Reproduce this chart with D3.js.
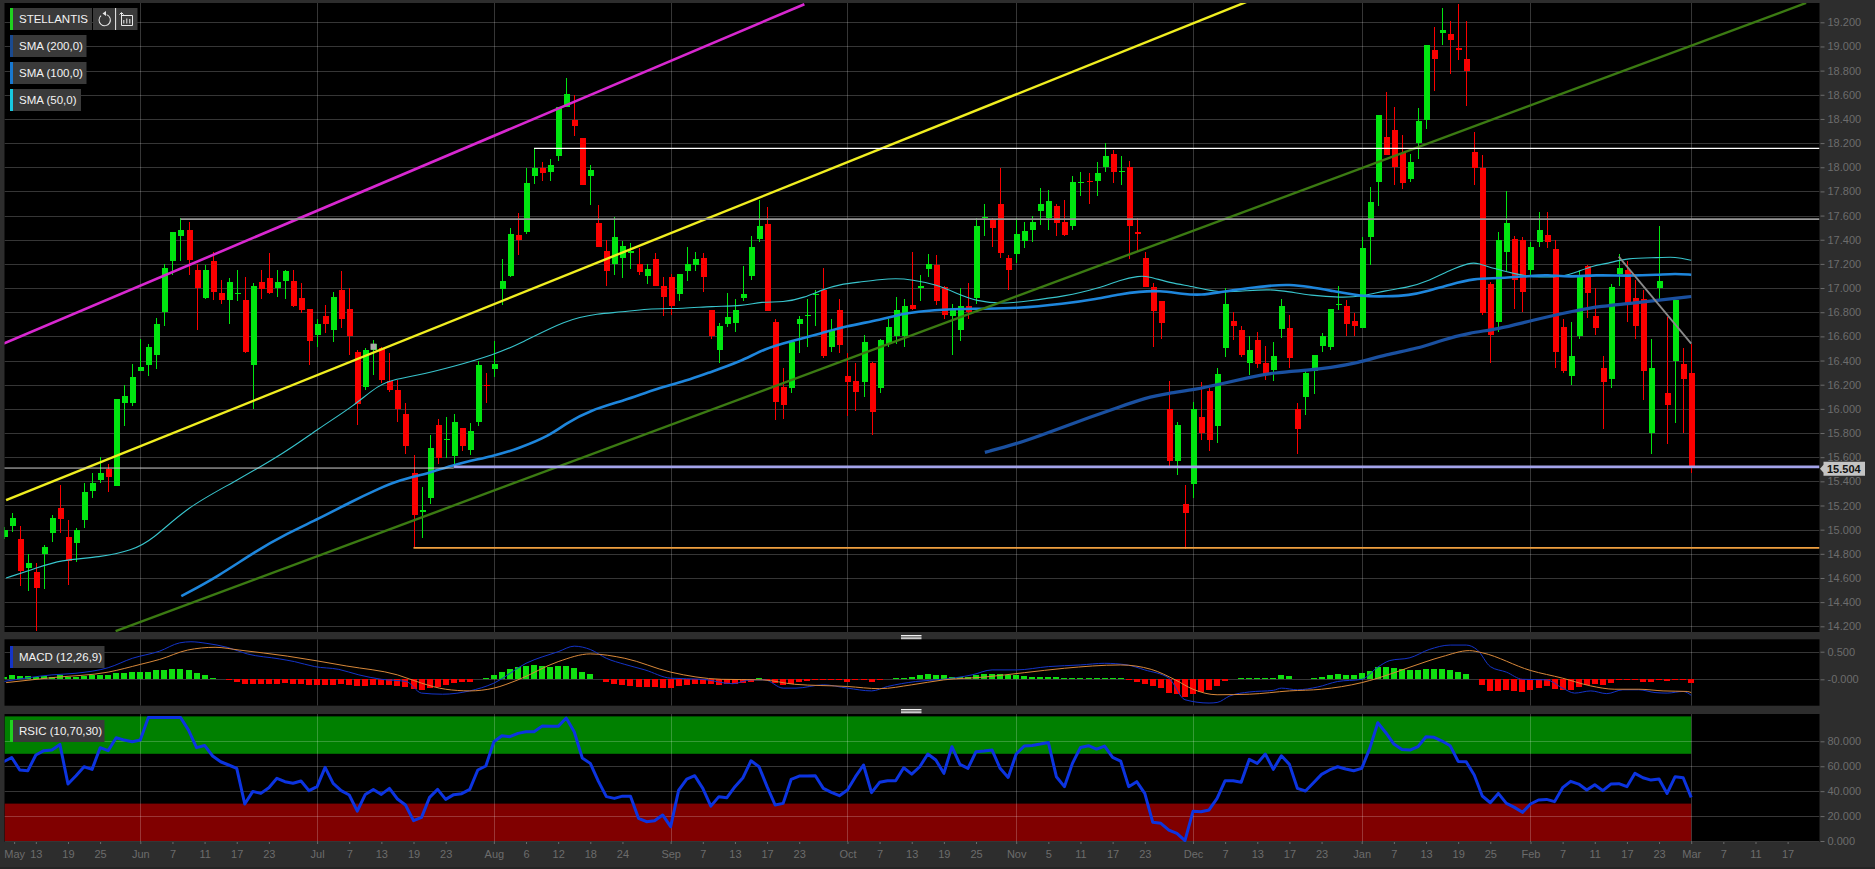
<!DOCTYPE html>
<html><head><meta charset="utf-8">
<script src="https://cdn.jsdelivr.net/npm/d3@7/dist/d3.min.js"></script>
<style>
html,body{margin:0;padding:0;background:#2d2d2d;overflow:hidden}
svg{display:block}
text{font-family:"Liberation Sans",Arial,sans-serif}
</style></head><body>
<svg id="c" width="1875" height="869"></svg>
<script>
const firstIndex = -17;
const opens = [14.94,15.03,14.92,14.68,14.65,14.80,14.97,15.18,14.94,14.89,15.08,15.32,15.41,15.50,15.36,16.05,16.05,16.31,16.36,16.45,16.80,17.22,17.43,17.48,17.15,16.92,17.22,16.96,16.90,16.95,16.90,16.36,17.05,17.08,17.00,17.06,17.06,16.92,16.83,16.61,16.77,16.65,16.98,16.83,16.47,16.18,16.49,16.50,16.23,16.16,15.96,15.47,15.15,15.26,15.87,15.74,15.61,15.84,15.66,15.89,16.20,16.33,16.99,17.10,17.44,17.46,17.93,17.99,17.96,18.09,18.50,18.39,18.24,17.93,17.54,17.31,17.20,17.25,17.29,17.20,17.10,17.24,17.02,17.09,16.95,17.14,17.19,17.25,16.82,16.49,16.70,16.71,16.92,17.10,17.41,17.53,16.72,16.18,16.17,16.70,16.77,16.94,16.98,16.51,16.82,16.27,16.23,16.22,16.38,16.17,16.54,16.60,16.60,16.86,17.00,17.16,17.19,17.01,16.77,16.65,16.85,16.92,17.58,17.56,17.70,17.25,17.28,17.39,17.48,17.64,17.58,17.68,17.55,17.51,17.87,17.89,17.89,18.00,18.11,17.96,18.00,17.46,17.25,17.01,16.89,16.00,15.57,15.21,15.38,15.93,16.15,15.86,16.50,16.73,16.65,16.38,16.57,16.38,16.32,16.66,16.67,16.00,16.10,16.31,16.52,16.51,16.86,16.85,16.73,16.67,17.42,17.88,18.25,18.31,18.12,17.90,18.20,18.39,18.97,19.11,19.10,18.99,18.90,18.13,17.99,17.03,16.72,17.30,17.41,17.40,17.15,17.38,17.44,17.32,16.68,16.27,16.60,17.18,16.77,16.34,16.25,17.12,17.15,16.92,16.91,15.80,17.00,16.13,16.40,16.37,16.30];
const highs = [15.02,15.14,15.03,14.80,14.72,14.87,15.12,15.37,15.08,15.01,15.39,15.47,15.60,15.54,16.08,16.20,16.37,16.58,16.54,16.75,17.20,17.46,17.58,17.55,17.20,17.19,17.30,17.07,17.08,17.15,17.09,17.04,17.15,17.29,17.15,17.15,17.15,17.04,16.83,16.74,16.86,16.97,17.14,17.00,16.49,16.50,16.57,16.51,16.46,16.24,16.05,15.62,15.35,15.78,15.92,15.93,15.96,15.84,15.88,16.40,16.30,16.56,17.24,17.50,17.62,17.99,18.16,18.04,18.07,18.50,18.74,18.60,18.24,18.02,17.69,17.40,17.59,17.39,17.37,17.33,17.20,17.29,17.09,17.12,17.12,17.34,17.30,17.29,16.82,16.71,16.96,16.91,17.18,17.43,17.73,17.67,16.74,16.34,16.57,16.77,16.91,16.98,17.17,16.74,16.91,16.46,16.38,16.61,16.39,16.58,16.74,16.93,16.91,17.30,17.11,17.28,17.27,17.02,16.87,17.00,17.04,17.58,17.70,17.58,17.99,17.27,17.58,17.55,17.60,17.83,17.81,17.70,17.73,17.93,17.96,17.95,18.04,18.20,18.14,18.09,18.05,17.58,17.30,17.04,16.89,16.23,15.89,15.37,16.06,16.22,16.17,16.34,17.00,16.80,16.69,16.60,16.64,16.52,16.55,16.91,16.78,16.05,16.32,16.45,16.63,16.83,17.02,16.90,16.79,17.42,17.84,18.43,18.62,18.50,18.27,18.11,18.49,19.01,19.16,19.32,19.21,19.35,19.21,18.29,18.10,17.05,17.46,17.80,17.43,17.42,17.38,17.63,17.63,17.40,16.74,16.72,17.14,17.19,17.00,16.44,17.03,17.28,17.22,17.07,16.98,16.58,17.51,16.76,16.90,16.50,16.54];
const lows = [14.92,14.98,14.53,14.49,14.16,14.51,14.90,14.97,14.54,14.73,15.01,15.26,15.39,15.31,15.36,15.86,16.02,16.31,16.27,16.33,16.69,17.11,17.22,17.11,16.65,16.91,16.90,16.87,16.70,16.89,16.46,16.00,16.91,16.95,16.93,16.91,16.84,16.79,16.36,16.51,16.63,16.55,16.67,16.45,15.87,16.16,16.28,16.21,16.14,15.89,15.63,14.85,14.93,15.21,15.54,15.59,15.52,15.65,15.62,15.86,16.05,16.26,16.86,17.09,17.27,17.45,17.86,17.89,17.89,18.05,18.50,18.26,17.85,17.69,17.34,17.02,17.11,17.08,17.16,17.11,17.03,17.02,16.77,16.78,16.89,17.06,17.14,16.97,16.58,16.38,16.68,16.64,16.89,17.07,17.38,16.81,15.91,15.92,16.13,16.46,16.51,16.69,16.42,16.47,16.46,15.94,15.98,16.10,15.78,16.13,16.51,16.54,16.51,16.82,16.89,17.09,16.86,16.74,16.45,16.56,16.74,16.87,17.43,17.34,17.25,16.98,17.21,17.33,17.38,17.52,17.48,17.43,17.43,17.48,17.76,17.70,17.76,17.96,17.87,17.85,17.24,17.31,17.01,16.51,16.58,15.53,15.45,14.84,15.26,15.74,15.65,15.72,16.43,16.57,16.43,16.28,16.34,16.24,16.23,16.59,16.34,15.63,15.95,16.12,16.47,16.49,16.82,16.60,16.60,16.67,17.19,17.68,18.10,17.85,17.82,17.88,18.07,18.32,18.63,19.01,18.77,18.89,18.51,17.85,16.78,16.38,16.64,17.14,16.83,16.80,17.11,17.34,17.33,16.34,16.30,16.20,16.58,16.75,16.61,15.83,16.17,17.02,16.72,16.58,16.07,15.63,16.91,15.71,15.88,15.80,15.47];
const closes = [15.00,15.10,14.66,14.72,14.52,14.86,15.10,15.09,14.74,15.00,15.31,15.39,15.47,15.44,16.08,16.11,16.26,16.35,16.51,16.70,17.17,17.46,17.48,17.23,17.00,17.15,16.97,16.90,17.05,16.96,16.47,17.02,16.99,16.96,17.05,17.14,16.85,16.82,16.56,16.70,16.70,16.93,16.74,16.60,16.04,16.49,16.54,16.24,16.16,16.00,15.69,15.12,15.16,15.68,15.59,15.75,15.89,15.69,15.82,16.36,16.19,16.37,17.06,17.45,17.40,17.87,17.99,17.95,18.02,18.50,18.61,18.34,17.85,17.98,17.34,17.14,17.42,17.35,17.31,17.13,17.16,17.02,16.93,16.85,17.12,17.20,17.24,17.09,16.60,16.69,16.76,16.82,16.95,17.34,17.51,16.81,16.06,16.03,16.55,16.74,16.78,16.95,16.44,16.65,16.53,16.22,16.14,16.55,15.97,16.57,16.68,16.82,16.85,16.83,17.02,17.20,16.89,16.78,16.82,16.85,16.80,17.51,17.59,17.50,17.29,17.15,17.45,17.47,17.55,17.70,17.72,17.54,17.44,17.88,17.88,17.88,17.95,18.09,17.96,17.97,17.51,17.45,17.01,16.81,16.71,15.57,15.87,15.14,16.00,15.80,15.74,16.29,16.87,16.69,16.45,16.49,16.37,16.29,16.44,16.85,16.42,15.83,16.30,16.45,16.60,16.83,16.87,16.70,16.69,17.33,17.71,18.43,18.10,18.00,17.87,18.04,18.38,19.01,18.90,19.14,19.05,18.97,18.80,17.99,16.79,16.61,17.40,17.54,17.07,16.97,17.34,17.48,17.38,16.47,16.31,16.44,17.10,16.96,16.67,16.22,17.01,17.17,16.86,16.69,16.31,16.34,17.06,16.03,16.90,16.25,15.52];
const markerCandles = [29];

const sma50 = [[-16.7,14.60],[-13,14.68],[-10,14.75],[-5,14.77],[-1,14.83],[1.4,14.91],[5.9,15.19],[11.3,15.38],[18.3,15.65],[22,15.83],[26.7,16.03],[29.6,16.20],[32,16.25],[34,16.27],[39,16.35],[44,16.45],[47,16.53],[53,16.74],[57,16.79],[60,16.80],[62.8,16.83],[67.8,16.83],[71,16.85],[75,16.85],[77.3,16.89],[80,16.88],[82.6,16.92],[85,16.99],[87,17.03],[89.6,17.05],[92,17.07],[94,17.08],[96,17.07],[99,17.03],[101.5,16.96],[104,16.89],[107.5,16.87],[110,16.89],[115,16.93],[119.4,17.00],[122,17.07],[124.3,17.10],[125.3,17.10],[128.3,17.04],[131.3,17.01],[134,16.96],[138,16.98],[140.5,16.99],[143,16.97],[145.5,16.94],[149.5,16.92],[152,16.93],[155,16.98],[158,17.01],[160,17.05],[163,17.15],[165.5,17.21],[166.3,17.21],[168.5,17.16],[171,17.12],[173,17.09],[177,17.09],[179,17.14],[181,17.19],[182.5,17.20],[185,17.25],[189,17.25],[191,17.26],[193,17.23]];
const sma100 = [[5.1,14.45],[9.6,14.61],[14.3,14.82],[18.3,14.97],[22.2,15.09],[26.2,15.23],[29.7,15.34],[32.2,15.41],[36.1,15.47],[39,15.54],[44,15.61],[47,15.67],[51,15.78],[53,15.88],[56,15.99],[60.3,16.07],[64.3,16.17],[68.3,16.24],[70.3,16.29],[74.7,16.39],[77.7,16.50],[81,16.56],[85,16.63],[87.5,16.68],[92.3,16.74],[95,16.79],[98.5,16.82],[104,16.83],[109,16.83],[115,16.87],[119,16.91],[122,16.95],[124.3,16.97],[126.8,16.98],[129.8,16.95],[132,16.94],[134.6,16.97],[138,17.00],[140.5,17.02],[143,17.03],[145.5,17.01],[148,16.98],[152,16.93],[155,16.93],[158,16.94],[160,16.97],[163,17.03],[166,17.08],[169,17.08],[173,17.10],[175,17.11],[178,17.09],[181,17.11],[185.2,17.10],[189,17.11],[191,17.12],[193,17.11]];
const sma200 = [[105.1,15.64],[109,15.71],[112,15.78],[116.5,15.89],[122,16.02],[125,16.09],[128,16.13],[131.3,16.16],[134.7,16.21],[138,16.26],[141,16.30],[145.5,16.32],[148,16.34],[151.5,16.38],[155,16.45],[159,16.50],[162,16.57],[165.4,16.63],[169,16.66],[173,16.73],[179,16.82],[181.8,16.85],[185,16.87],[189,16.90],[193,16.93]];

const trendMagenta = [[-17,16.54],[82.64,19.35]];
const trendYellow = [[-16.7,15.245],[137.7,19.37]];
const trendGreen = [[-3.07,14.16],[207.3,19.36]];
const trendGrey = [[183.98,17.26],[193,16.54]];
const levelWhite = {from:49,price:18.157};
const levelGrey = {from:5,price:17.57};
const levelLavender = {from:39,price:15.52};
const levelOrange = {from:34,price:14.85};
const levelThin = {from:-18,to:39,price:15.51};
const lastPrice = 15.504;

const macdHist = [.04,.08,.06,.06,.05,.06,.05,.07,.05,.05,.06,.07,.08,.08,.11,.12,.13,.14,.14,.16,.16,.18,.19,.17,.12,.08,.03,.01,-.01,-.04,-.08,-.08,-.08,-.08,-.08,-.07,-.08,-.09,-.10,-.11,-.11,-.10,-.09,-.10,-.13,-.12,-.11,-.11,-.11,-.12,-.14,-.18,-.19,-.16,-.14,-.10,-.06,-.05,-.04,.01,.03,.07,.13,.18,.22,.25,.26,.25,.23,.25,.25,.20,.13,.09,.01,-.05,-.09,-.11,-.12,-.14,-.14,-.14,-.15,-.15,-.13,-.10,-.08,-.08,-.09,-.10,-.09,-.08,-.06,-.04,.02,-.01,-.06,-.10,-.08,-.05,-.03,-.01,-.01,-.01,-.01,-.04,-.02,-.02,-.05,-.02,.01,.03,.03,.05,.08,.10,.08,.07,.04,.04,.04,.07,.09,.10,.09,.07,.07,.06,.05,.05,.05,.05,.02,.02,.02,.02,.02,.02,.02,.02,-.01,-.04,-.08,-.13,-.16,-.24,-.27,-.32,-.26,-.23,-.19,-.13,-.03,.01,.02,.02,.02,.02,.02,.07,.06,.01,.01,.02,.05,.08,.09,.08,.08,.11,.15,.22,.23,.21,.18,.16,.16,.19,.19,.19,.17,.14,.10,.01,-.11,-.22,-.22,-.20,-.22,-.23,-.19,-.15,-.13,-.17,-.19,-.19,-.14,-.10,-.09,-.10,-.06,-.01,-.01,-.01,-.04,-.04,-.01,-.03,-.01,-.01,-.07];
const macdLine = [[-17,-.04],[-11,.08],[-8,.11],[-4,.21],[-1,.38],[2.4,.51],[4.9,.66],[6.3,.68],[8.3,.65],[10.8,.58],[13.3,.46],[17.3,.37],[19.2,.32],[21.7,.23],[24.7,.18],[27.2,.08],[30,0],[33.1,-.04],[35,-.25],[37.6,-.27],[41,-.21],[44,-.07],[48,.29],[52,.50],[54,.60],[56,.54],[58,.38],[60.3,.27],[62.8,.17],[66,.02],[70,0],[73.7,-.08],[76,-.01],[77.7,-.01],[80,-.16],[81.6,-.16],[85,-.10],[88,-.16],[91,-.21],[93,-.13],[96.5,-.04],[99.9,0],[103.5,.08],[106,.17],[109,.17],[113,.23],[117,.26],[120,.29],[122.8,.26],[125,.17],[128,.02],[130,-.37],[133,-.43],[134,-.42],[135.6,-.30],[138,-.23],[141,-.20],[142,-.16],[144,-.19],[146.5,-.14],[149,-.04],[152,0],[154,.22],[155.5,.34],[158,.39],[160.4,.54],[163,.62],[165,.62],[166.4,.53],[168,.23],[170,.13],[172,0],[175,-.01],[177,-.16],[178.5,-.25],[180.5,-.21],[182.5,-.26],[184.5,-.19],[186.5,-.19],[188.5,-.24],[190,-.25],[192,-.22],[193,-.29]];
const macdSignal = [[-16.7,-.06],[-11,.03],[-4,.13],[0,.27],[2.4,.36],[5.9,.53],[9.3,.58],[12.3,.53],[18.3,.42],[25.7,.24],[32,.08],[35,-.07],[38,-.18],[41,-.21],[44,-.16],[47,-.01],[52,.32],[56,.46],[60.3,.38],[66,.13],[72.3,0],[77.4,-.01],[81.4,-.09],[88,-.13],[92,-.17],[96,-.10],[100,-.01],[105,.04],[110,.12],[115,.20],[122,.26],[125.8,.18],[128.8,-.01],[131,-.18],[134,-.28],[138,-.27],[143,-.21],[147,-.18],[152,-.06],[154,.02],[158,.22],[162,.41],[165.4,.52],[167,.48],[173,.16],[177,.02],[180.5,-.12],[183.5,-.18],[186.5,-.18],[189.5,-.21],[192.5,-.22],[193,-.24]];
const rsi = [63.6,67,57,56.4,69,72.5,73,77.5,45.7,52.4,59.6,57.5,74.9,72.5,82.9,81,79.7,81,99.2,99.2,99.2,99.2,99.2,89,74.9,76.7,68.2,63.6,61,58.3,29.7,39.8,38.2,42.8,50.3,47.6,46.3,48.1,40.4,43.6,59.1,46.3,40.4,36.9,24,37.4,41.4,37.4,42.2,33.7,28.9,16.3,19,35,41.4,33.4,37.2,38,41.4,57,60.2,79.7,84.5,83.7,86.4,87.7,87.7,92.2,92,92,98.7,87.7,66.6,62.3,48.1,35.6,34.2,36,36,18.2,15.5,16.3,20.9,11.5,40.9,49.7,52.4,42.2,28,35.6,34.8,43.6,50.8,64.4,59.6,43.6,28.9,30.2,49.5,52.1,52.1,52.4,42.2,39,36.4,40.9,51.6,61,38.8,47.1,48.4,48.4,58.8,53.7,59.6,69.8,65,54.3,75.7,61.5,58.3,71.7,72.2,73,58.3,51,69.8,76.2,76.7,77.8,79.1,51.6,43.6,62.3,75.1,76.5,73.8,76.2,67.1,64.2,43.6,47.6,38.2,15,14.2,8.8,6.1,0.3,23.8,23.5,24.9,34.2,48.4,48.4,47.1,65.5,62.3,69.8,57.5,68.4,61.5,42.2,40.1,46.8,53.5,57,59.6,57.8,56.4,58.3,74.3,94.9,86.9,77.8,73.5,73,75.7,83.7,83.2,80.2,76.5,63.9,63.6,52.9,36.1,30.7,38.2,30.2,27,23,29.7,32.9,33.4,31.6,42.8,47.9,45.7,40.9,45.2,40.4,45.7,46,43.6,54.3,50.8,48.9,49.7,38.2,51.6,50.8,35];
const rsiBands = [{from:70,to:100,fill:"#008000"},{from:0,to:30,fill:"#800000"}];

const priceTicks = d3.range(14.2,19.21,0.2).map(v=>+v.toFixed(1));
const macdTicks = [0,0.5];
const macdTickLabels = ["-0.000","0.500"];
const rsiTicks = [0,20,40,60,80];
const monthTicks = [0,22,44,66,88,109,131,152,173,193];
const xTickIndex = [-15.7,-13,-9,-5,0,4,8,12,16,22,26,30,34,38,44,48,52,56,60,66,70,74,78,82,88,92,96,100,104,109,113,117,121,125,131,135,139,143,147,152,156,160,164,168,173,177,181,185,189,193,197,201,205];
const xTickLabels = ["May","13","19","25","Jun","7","11","17","23","Jul","7","13","19","23","Aug","6","12","18","24","Sep","7","13","17","23","Oct","7","13","19","25","Nov","5","11","17","23","Dec","7","13","17","23","Jan","7","13","19","25","Feb","7","11","17","23","Mar","7","11","17"];

const legendSeries = [
 {name:"STELLANTIS",bar:"#1fd21f",w:82},
 {name:"SMA (200,0)",bar:"#1a4a90",w:76.5},
 {name:"SMA (100,0)",bar:"#1878d0",w:76.5},
 {name:"SMA (50,0)",bar:"#18c8e0",w:71}];

const L=4.5, R=1819.5;
const x = d3.scaleLinear().domain([0,193]).range([140.3,1691.2]);
const y = d3.scaleLinear().domain([14.2,19.2]).range([626.3,22.3]);
const yM = d3.scaleLinear().domain([0,0.5]).range([679.3,651.7]);
const yR = d3.scaleLinear().domain([0,100]).range([841,716.4]);
const panels = {main:[3,632],macd:[639.3,705.7],rsi:[714,842]};

const svg = d3.select("#c");
svg.append("rect").attr("width",1875).attr("height",869).attr("fill","#2d2d2d");
const defs = svg.append("defs");
Object.entries(panels).forEach(([k,[a,b]])=>{
  svg.append("rect").attr("x",L).attr("y",a).attr("width",R-L).attr("height",b-a).attr("fill","#000");
  defs.append("clipPath").attr("id","clip-"+k).append("rect").attr("x",L).attr("y",a).attr("width",R-L).attr("height",b-a);
});
const gMain = svg.append("g").attr("clip-path","url(#clip-main)");
const gMacd = svg.append("g").attr("clip-path","url(#clip-macd)");
const gRsi = svg.append("g").attr("clip-path","url(#clip-rsi)");
const gridColor = "rgba(255,255,255,0.21)";

gRsi.selectAll("rect.band").data(rsiBands).join("rect").attr("class","band")
  .attr("x",L).attr("width",x(193)-L)
  .attr("y",d=>yR(d.to)).attr("height",d=>yR(d.from)-yR(d.to)).attr("fill",d=>d.fill);

function grid(g,scale,ticks,[a,b]){
  g.selectAll("line.h").data(ticks).join("line").attr("class","h")
    .attr("x1",L).attr("x2",R).attr("y1",d=>Math.round(scale(d))+.5).attr("y2",d=>Math.round(scale(d))+.5)
    .attr("stroke",gridColor);
  g.selectAll("line.v").data(monthTicks).join("line").attr("class","v")
    .attr("x1",d=>Math.round(x(d))+.5).attr("x2",d=>Math.round(x(d))+.5).attr("y1",a).attr("y2",b)
    .attr("stroke",gridColor);
}
grid(gMain,y,priceTicks,panels.main);
grid(gMacd,yM,macdTicks,panels.macd);
grid(gRsi,yR,rsiTicks,panels.rsi);

const candles = opens.map((o,k)=>({i:k+firstIndex,o,h:highs[k],l:lows[k],c:closes[k]}));
const colUp="#00e610", colDn="#fb0000";
const bodyW=6;
gMain.selectAll("line.wick").data(candles).join("line").attr("class","wick")
  .attr("x1",d=>Math.round(x(d.i))+.5).attr("x2",d=>Math.round(x(d.i))+.5)
  .attr("y1",d=>y(d.h)).attr("y2",d=>y(d.l))
  .attr("stroke",d=>d.c>=d.o?colUp:colDn).attr("stroke-width",1).attr("shape-rendering","crispEdges");
gMain.selectAll("rect.body").data(candles).join("rect").attr("class","body")
  .attr("x",d=>Math.round(x(d.i))+.5-bodyW/2).attr("width",bodyW)
  .attr("y",d=>y(Math.max(d.o,d.c))).attr("height",d=>Math.max(1,Math.abs(y(d.o)-y(d.c))))
  .attr("fill",d=>d.c>=d.o?colUp:colDn).attr("shape-rendering","crispEdges");
gMain.selectAll("rect.mark").data(markerCandles.map(i=>candles[i-firstIndex])).join("rect").attr("class","mark")
  .attr("x",d=>Math.round(x(d.i))+.5-bodyW/2).attr("width",bodyW)
  .attr("y",d=>y(Math.max(d.o,d.c))).attr("height",d=>Math.abs(y(d.o)-y(d.c)))
  .attr("fill","#aaa");

const lineP = d3.line().x(d=>x(d[0])).y(d=>y(d[1])).curve(d3.curveBasis);
const drawLine=(g,gen,data,col,w)=>g.append("path").datum(data).attr("d",gen).attr("fill","none").attr("stroke",col).attr("stroke-width",w).attr("stroke-linejoin","round");
drawLine(gMain,lineP,sma50,"#38c4cc",1.1);
drawLine(gMain,lineP,sma100,"#1e86dc",2.6);
drawLine(gMain,lineP,sma200,"#1a50a0",3.2);

const lineT = d3.line().x(d=>x(d[0])).y(d=>y(d[1]));
drawLine(gMain,lineT,trendGreen,"#3b7a12",2.4);
drawLine(gMain,lineT,trendYellow,"#f0ee20",2.4);
drawLine(gMain,lineT,trendMagenta,"#d828d0",2.6);
drawLine(gMain,lineT,trendGrey,"#8a8a8a",1.8);

const level=(d,col,w)=>gMain.append("line").datum(d).attr("x1",x(d.from)).attr("x2",d.to!==undefined?x(d.to):R)
  .attr("y1",y(d.price)).attr("y2",y(d.price)).attr("stroke",col).attr("stroke-width",w);
level(levelThin,"#cfcfcf",1);
level(levelWhite,"#ffffff",1.2);
level(levelGrey,"#9a9a9a",1.8);
level(levelOrange,"#f0a040",1.8);
level(levelLavender,"#a3a3ea",2.6);

gMacd.selectAll("rect.hist").data(macdHist.map((v,k)=>({i:k+firstIndex,v}))).join("rect").attr("class","hist")
  .attr("x",d=>x(d.i)-3).attr("width",6)
  .attr("y",d=>yM(Math.max(0,d.v))).attr("height",d=>Math.abs(yM(d.v)-yM(0)))
  .attr("fill",d=>d.v>=0?"#10e010":"#fb0000").attr("shape-rendering","crispEdges");
const lineM = d3.line().x(d=>x(d[0])).y(d=>yM(d[1])).curve(d3.curveMonotoneX);
drawLine(gMacd,lineM,macdLine,"#1434c8",1);
drawLine(gMacd,lineM,macdSignal,"#d8883a",1);

const lineR = d3.line().x((d,k)=>x(k+firstIndex)).y(d=>yR(d));
drawLine(gRsi,lineR,rsi,"#0c34e0",3);

const labelCol="#6c6c6c";
function styleAxis(g){
  g.select(".domain").remove();
  g.selectAll("line").attr("stroke","#6c6c6c");
  g.selectAll("text").attr("fill",labelCol).attr("font-size",11).attr("font-family",'"Liberation Sans",Arial,sans-serif');
}
svg.append("g").attr("transform",`translate(${R+1},0)`)
  .call(d3.axisRight(y).tickValues(priceTicks).tickSize(4).tickPadding(3).tickFormat(d3.format(".3f"))).call(styleAxis);
svg.append("g").attr("transform",`translate(${R+1},0)`)
  .call(d3.axisRight(yM).tickValues(macdTicks).tickSize(4).tickPadding(3).tickFormat((d,k)=>macdTickLabels[k])).call(styleAxis);
svg.append("g").attr("transform",`translate(${R+1},0)`)
  .call(d3.axisRight(yR).tickValues(rsiTicks).tickSize(4).tickPadding(3).tickFormat(d3.format(".3f"))).call(styleAxis);
svg.append("g").attr("transform","translate(0,842)")
  .call(d3.axisBottom(x).tickValues(xTickIndex).tickSize(2).tickPadding(6).tickFormat((d,k)=>xTickLabels[k])).call(styleAxis);
svg.append("line").attr("x1",0).attr("x2",1875).attr("y1",868).attr("y2",868).attr("stroke","#1e1e1e");

const tag = svg.append("g").attr("transform",`translate(0,${y(lastPrice)})`);
tag.append("path").attr("d","M1820,0 L1823.5,-4 L1823.5,-7 L1865,-7 L1865,7 L1823.5,7 L1823.5,4 Z").attr("fill","#c4c4c4");
tag.append("text").attr("x",1827).attr("y",4).attr("font-size",11).attr("font-weight","bold").attr("fill","#111").text(d3.format(".3f")(lastPrice));

[[635,639],[709,713]].forEach(([a,b])=>{
  d3.range(3).forEach(k=>{
    svg.append("rect").attr("x",901).attr("width",20.5).attr("y",a+k*1.6).attr("height",1).attr("fill","#f0f0f0");
  });
});

function legend(yTop,name,bar,w){
  const g=svg.append("g");
  g.append("rect").attr("x",10).attr("y",yTop).attr("width",w).attr("height",22).attr("fill","#3a3a3a");
  g.append("rect").attr("x",10).attr("y",yTop).attr("width",3).attr("height",22).attr("fill",bar);
  g.append("text").attr("x",19).attr("y",yTop+15).attr("font-size",11.5).attr("fill","#f2f2f2").text(name);
}
legendSeries.forEach((d,k)=>legend(8+k*27,d.name,d.bar,d.w));
legend(646,"MACD (12,26,9)","#1434c8",94.5);
legend(720,"RSIC (10,70,30)","#1fd21f",94.5);

svg.append("rect").attr("x",93).attr("y",8).attr("width",44.5).attr("height",22).attr("fill","#3a3a3a");
svg.append("line").attr("x1",115.6).attr("x2",115.6).attr("y1",8).attr("y2",30).attr("stroke","#eee");
svg.append("path").attr("d",d3.arc()({innerRadius:5.2,outerRadius:6.2,startAngle:0.35,endAngle:5.6})).attr("transform","translate(104.7,20)").attr("fill","#e8e8e8");
svg.append("path").attr("d","M106,11 L102.5,13.6 L106,16 Z").attr("fill","#e8e8e8");
svg.append("path").attr("d","M121,15.5 H132.5 V25.5 H121.5 V13 M123.8,23.5 V20 M126.8,23.5 V18.5 M129.8,23.5 V19 M119.5,14.5 L121.5,12.5 L123.5,14.5").attr("fill","none").attr("stroke","#e8e8e8").attr("stroke-width",1);
</script>
</body></html>
